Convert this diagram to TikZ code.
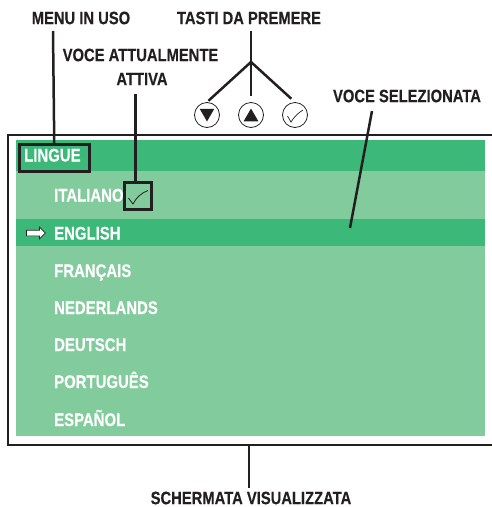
\documentclass[tikz,border=0pt]{standalone}
\usepackage{fontspec}
\setmainfont[FakeStretch=0.82,BoldFeatures={FakeBold=0.3}]{Liberation Sans}
\usetikzlibrary{shapes.geometric,shapes.arrows}
\definecolor{inkblack}{HTML}{231F20}
\definecolor{bargreen}{HTML}{3CB878}
\definecolor{palegreen}{HTML}{82CB9C}
\tikzset{
  callout/.style  = {font=\fontsize{18}{20}\selectfont\bfseries, text=inkblack, inner sep=0pt},
  item/.style     = {font=\fontsize{18.2}{20}\selectfont\bfseries, text=white, inner sep=0pt, anchor=base west},
  stripe/.style   = {anchor=north west, inner sep=0pt, minimum width=469pt},
  leader/.style   = {draw=inkblack, line width=2.5pt},
  keycircle/.style = {circle, draw=inkblack, line width=0.8pt, fill=white, inner sep=0pt, minimum size=25pt},
  keytip/.style   = {regular polygon, regular polygon sides=3, fill=inkblack, inner sep=0pt, minimum size=17pt},
  tickbox/.style  = {draw=inkblack, line width=2.5pt, inner sep=0pt}
}
\begin{document}
\begin{tikzpicture}[x=1pt,y=-1pt]
  \useasboundingbox (0,0) rectangle (492,507);

  % screen and its stripes
  \node [stripe, fill=bargreen, minimum height=31pt] (titlebar) at (16,140) {};
  \node [stripe, fill=palegreen, minimum height=48pt] (rowita) at (16,171) {};
  \node [stripe, fill=bargreen, minimum height=27pt] (roweng) at (16,219) {};
  \node [stripe, fill=palegreen, minimum height=190pt] (rowrest) at (16,246) {};
  \draw [draw=inkblack, line width=2.5pt] (492,135) -- (8,135) -- (8,445) -- (492,445);

  % menu entries
  \node [tickbox, fill=bargreen, anchor=north west, minimum width=70pt, minimum height=27pt] (lingue) at (18,143) {};
  \node [item] at (24,161.5) {LINGUE};
  \node [item] at (54,201.5) {ITALIANO};
  \node [item] at (54,239.5) {ENGLISH};
  \node [item] at (54,277) {FRANÇAIS};
  \node [item] at (54,314) {NEDERLANDS};
  \node [item] at (54,351) {DEUTSCH};
  \node [item] at (54,388) {PORTUGUÊS};
  \node [item] at (54,426) {ESPAÑOL};
  \node [single arrow, draw=inkblack, fill=white, line width=0.7pt, inner sep=0pt,
         text height=5pt, text depth=0pt, text width=0pt,
         minimum height=19pt, single arrow head extend=3pt,
         single arrow tip angle=90] (pointer) at (34.5,233) {};
  \node [tickbox, minimum size=27pt] (tick) at (138,196) {};
  \draw [inkblack, line width=0.8pt] (128.5,198) -- (133,204) .. controls (136,198) and (141,193) .. (148,190.5);

  % keys
  \node [keycircle] (keydown) at (207,115) {};
  \node [keycircle] (keyup) at (251,115) {};
  \node [keycircle] (keyok) at (295,115) {};
  \node [keytip, shape border rotate=180] (tipdown) at (207,113) {};
  \node [keytip] (tipup) at (251,117) {};
  \draw [inkblack, line width=0.7pt] (287.5,116) -- (291,122) .. controls (294,117) and (298,113) .. (303,110);

  % callouts
  \node [callout] (menuuso) at (81,18) {MENU IN USO};
  \node [callout] (tasti) at (249,18) {TASTI DA PREMERE};
  \node [callout] (voceatt) at (140.5,55) {VOCE ATTUALMENTE};
  \node [callout] (attiva) at (142,79) {ATTIVA};
  \node [callout] (vocesel) at (407,96) {VOCE SELEZIONATA};
  \node [callout] (schermata) at (251,498) {SCHERMATA VISUALIZZATA};

  % connectors
  \coordinate (menufoot) at (53,31);
  \coordinate (attivafoot) at (135.5,94);
  \coordinate (tastifoot) at (251,31);
  \coordinate (fork) at (251,62);
  \coordinate (selfoot) at (372,111);
  \coordinate (selend) at (350,228);
  \coordinate (screenfoot) at (249,445);
  \coordinate (schermatatop) at (249,488);
  \draw [leader] (menufoot) -- (lingue.north);
  \draw [leader] (attivafoot) -- (attivafoot |- tick.north);
  \draw [leader] (tastifoot) -- (fork);
  \draw [leader, shorten >=2pt] (fork) -- (keydown.north);
  \draw [leader, shorten >=6pt] (fork) -- (keyup.north);
  \draw [leader, shorten >=5pt] (fork) -- (keyok.north);
  \draw [leader] (selfoot) -- (selend);
  \draw [leader] (screenfoot) -- (schermatatop);
\end{tikzpicture}
\end{document}
